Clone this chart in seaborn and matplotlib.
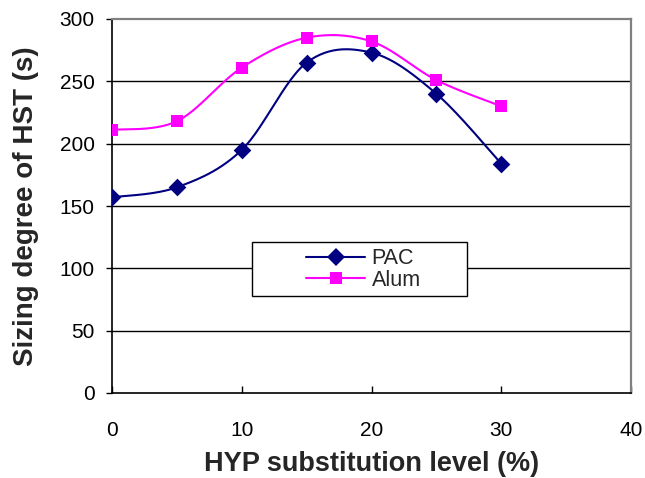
import numpy as np
import pandas as pd
import matplotlib
matplotlib.use("Agg")
import matplotlib.pyplot as plt
import matplotlib.patches as mpatches
import seaborn as sns

levels = [0, 5, 10, 15, 20, 25, 30]
pac = [157, 165, 195, 265, 273, 240, 184]
alum = [211, 218, 261, 285, 282, 251, 230]
series_names = ["PAC", "Alum"]
xticks = [0, 10, 20, 30, 40]
yticks = [0, 50, 100, 150, 200, 250, 300]

sns.set_theme(style="white")
plt.rcParams['font.family'] = ['Liberation Sans', 'DejaVu Sans']


def smooth(x, y, n=30):
    # Bezier smoothing similar to spreadsheet "smoothed line"
    x = np.asarray(x, float)
    y = np.asarray(y, float)
    P = np.column_stack([x, y])
    out = []
    for i in range(len(P) - 1):
        p0 = P[i - 1] if i > 0 else P[i]
        p1 = P[i]
        p2 = P[i + 1]
        p3 = P[i + 2] if i + 2 < len(P) else P[i + 1]
        c1 = p1 + (p2 - p0) / 6.0
        c2 = p2 - (p3 - p1) / 6.0
        t = np.linspace(0, 1, n)[:, None]
        seg = ((1 - t) ** 3) * p1 + 3 * ((1 - t) ** 2) * t * c1 + 3 * (1 - t) * t ** 2 * c2 + t ** 3 * p2
        out.append(seg if i == 0 else seg[1:])
    s = np.vstack(out)
    return s[:, 0], s[:, 1]


df = pd.DataFrame({"level": levels * 2,
                   "value": pac + alum,
                   "series": [series_names[0]] * len(levels) + [series_names[1]] * len(levels)})

W, H = 645, 478
fig = plt.figure(figsize=(W / 100, H / 100), dpi=100)
ax = fig.add_axes([112 / W, 1 - 393 / H, 519 / W, 374 / H])

colors = {"PAC": "#000080", "Alum": "#FF00FF"}
markers = {"PAC": "D", "Alum": "s"}
msize = {"PAC": 9.0, "Alum": 9.0}

for name, vals in zip(series_names, [pac, alum]):
    sx, sy = smooth(levels, vals)
    sns.lineplot(x=sx, y=sy, ax=ax, color=colors[name], lw=1.5, sort=False, estimator=None)
handles = []
for name in series_names:
    sub = df[df.series == name]
    sns.scatterplot(data=sub, x="level", y="value", ax=ax, marker=markers[name], color=colors[name],
                    s=msize[name] ** 2, edgecolor=colors[name], linewidth=0, zorder=5)
    handles.append(plt.Line2D([], [], color=colors[name], marker=markers[name], lw=1.5,
                              markersize=msize[name], markeredgewidth=0, label=name))

ax.set_xlim(0, 40)
ax.set_ylim(0, 300)
ax.set_xticks(xticks)
ax.set_yticks(yticks)
for yv in yticks[1:-1]:
    ax.axhline(yv, color="black", lw=1.0, zorder=0)

for side in ["top", "right"]:
    ax.spines[side].set_color("#808080")
    ax.spines[side].set_linewidth(1.6)
for side in ["left", "bottom"]:
    ax.spines[side].set_color("black")
    ax.spines[side].set_linewidth(1.2)

ax.tick_params(axis="x", direction="in", length=5, width=1, colors="black", labelsize=15, pad=20)
ax.tick_params(axis="y", direction="out", length=4.5, width=1, colors="black", labelsize=15, pad=8)
ax.tick_params(left=True, bottom=True)

ax.set_xlabel("HYP substitution level (%)", fontsize=19.5, fontweight="bold", labelpad=8)
ax.set_ylabel("Sizing degree of HST (s)", fontsize=20, fontweight="bold", labelpad=15)

# legend frame (spreadsheet-style wide box)
frame = mpatches.Rectangle((252 / W, 1 - 296 / H), 215 / W, 54 / H, transform=fig.transFigure,
                           facecolor="white", edgecolor="black", lw=1.0, zorder=8, clip_on=False)
ax.add_patch(frame)

leg = ax.legend(handles=handles, loc="center left", bbox_to_anchor=(306 / W, 1 - 269.5 / H),
                bbox_transform=fig.transFigure, fontsize=15.5, frameon=False,
                handlelength=2.75, labelspacing=0.0, borderpad=0, handletextpad=0.3,
                borderaxespad=0)
leg.set_zorder(10)

fig.savefig("out.png", dpi=100)
